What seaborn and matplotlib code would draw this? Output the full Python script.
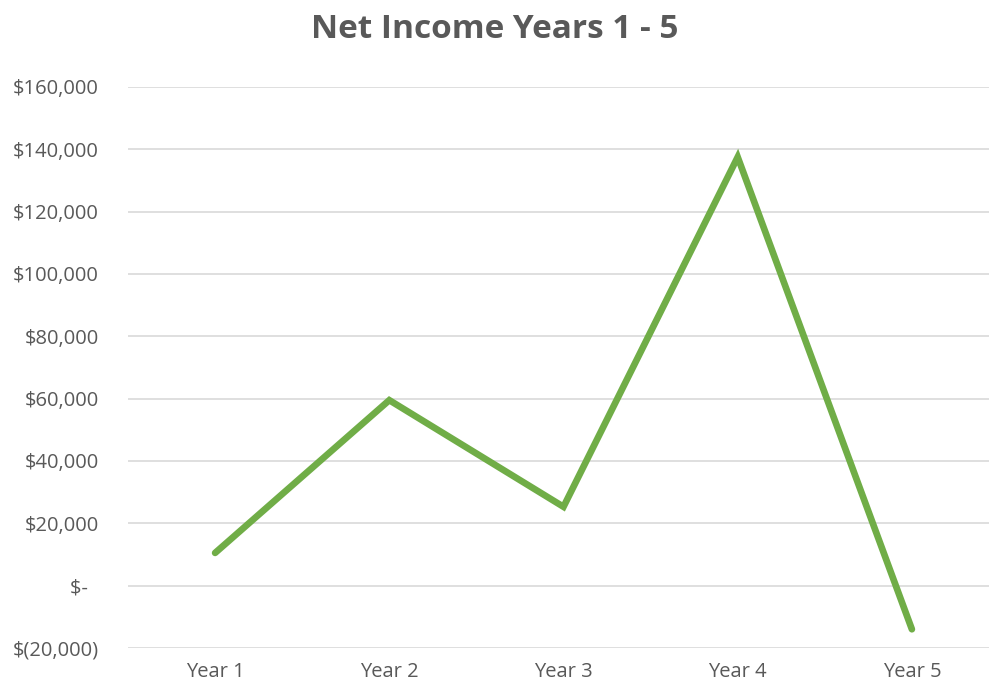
import matplotlib
matplotlib.use("Agg")
import matplotlib.pyplot as plt
import seaborn as sns
import pandas as pd
from matplotlib.ticker import FuncFormatter

years = ["Year 1", "Year 2", "Year 3", "Year 4", "Year 5"]
net_income = [10500, 59500, 25300, 137500, -14000]
title = "Net Income Years 1 - 5"

df = pd.DataFrame({"Year": years, "Net Income": net_income})

sns.set_theme(style="white")
plt.rcParams["font.family"] = ["Open Sans", "DejaVu Sans"]

fig = plt.figure(figsize=(9.89, 6.90), dpi=100)
ax = fig.add_axes([128 / 989, 0.0609, 871 / 989, 0.8131])

sns.lineplot(data=df, x="Year", y="Net Income", ax=ax, color="#70AD47",
             linewidth=4.8, sort=False, solid_capstyle="round",
             solid_joinstyle="miter")

ax.set_xlim(-0.5, 4.5)
ax.set_ylim(-20000, 160000)
ax.set_yticks(range(-20000, 160001, 20000))

def fmt(v, pos):
    v = int(round(v))
    if v == 0:
        return "$-  "
    if v < 0:
        return "$({:,})".format(-v)
    return "${:,}".format(v)

ax.yaxis.set_major_formatter(FuncFormatter(fmt))
ax.grid(axis="y", color="#D9D9D9", linewidth=1.2)
ax.set_axisbelow(True)
for s in ax.spines.values():
    s.set_visible(False)
ax.tick_params(axis="both", length=0, labelsize=14.5, labelcolor="#595959")
ax.tick_params(axis="y", pad=21)
ax.tick_params(axis="x", pad=10)
ax.set_xlabel("")
ax.set_ylabel("")
fig.text(0.5, 1 - 30 / 690, title, ha="center", va="center",
         fontsize=24, fontweight="bold", color="#595959")

fig.savefig("out.png", dpi=100)
